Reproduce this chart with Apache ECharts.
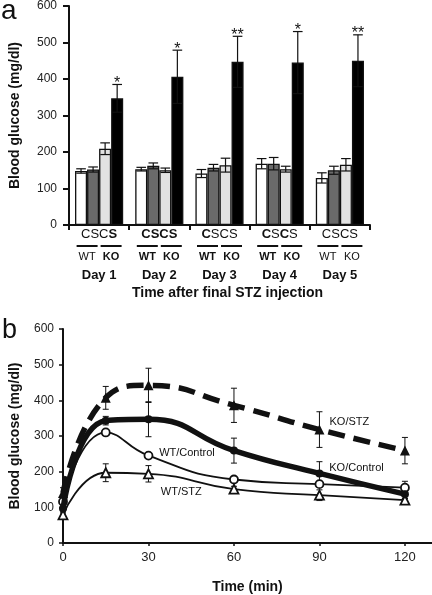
<!DOCTYPE html>
<html><head><meta charset="utf-8">
<script src="https://cdn.jsdelivr.net/npm/echarts@6/dist/echarts.min.js"></script>
<style>html,body{margin:0;padding:0;background:#fff}#c{width:432px;height:595px}</style>
</head><body><div id="c"></div>
<script>
// ---------- Panel a data ----------
const days = ['Day 1', 'Day 2', 'Day 3', 'Day 4', 'Day 5'];
const wtC = [148, 153, 141, 168, 129];
const wtS = [152, 162, 157, 168, 150];
const koC = [209, 150, 164, 153, 165];
const koS = [347, 406, 447, 445, 450];
const wtCErr = [6, 5, 11, 14, 14];
const wtSErr = [7, 8, 9, 17, 11];
const koCErr = [16, 6, 19, 8, 17];
const koSErr = [38, 73, 70, 85, 71];
const stars = ['*', '*', '**', '*', '**'];
const csLetters = ['C', 'S', 'C', 'S'];
const csBold = [[0,0,0,1],[1,1,1,1],[1,0,0,0],[1,0,1,0],[0,0,0,0]];
const wtkoBold = [[0,1],[1,1],[1,1],[1,1],[0,0]];
const yTicksA = [0, 100, 200, 300, 400, 500, 600];

// ---------- Panel b data ----------
const times = [0, 15, 30, 60, 90, 120];
const wtControl = [116, 310, 245, 178, 165, 155];
const wtControlErr = [6, 6, 6, 6, 8, 18];
const wtStz = [79, 197, 194, 151, 134, 120];
const wtStzErr = [5, 25, 23, 8, 15, 5];
const koControl = [97, 343, 347, 259, 195, 137];
const koControlErr = [10, 12, 49, 35, 33, 12];
const koStz = [140, 407, 442, 386, 318, 259];
const koStzErr = [15, 32, 48, 48, 50, 37];
const xTicksB = [0, 30, 60, 90, 120];

const FF = '"Liberation Sans", Arial, Helvetica, sans-serif';
const INK = '#111';

function barErr(barIdx, values, errs, withStar) {
  return {
    type: 'custom', xAxisIndex: 0, yAxisIndex: 0, z: 5,
    data: values.map((v, i) => [i, v, errs[i]]),
    renderItem: function (params, api) {
      const i = api.value(0), v = api.value(1), e = api.value(2);
      const catW = api.size([1, 0])[0];
      const bw = catW * 0.2;
      const cx = api.coord([i, v])[0] + (barIdx - 1.5) * bw;
      const yT = api.coord([i, v + e])[1], yB = api.coord([i, v - e])[1];
      const cap = bw * 0.4;
      const st = { stroke: INK, lineWidth: 1.2 };
      const ch = [
        { type: 'line', shape: { x1: cx, y1: yT, x2: cx, y2: yB }, style: st },
        { type: 'line', shape: { x1: cx - cap, y1: yT, x2: cx + cap, y2: yT }, style: st },
        { type: 'line', shape: { x1: cx - cap, y1: yB, x2: cx + cap, y2: yB }, style: st }
      ];
      if (withStar) ch.push({ type: 'text', style: { text: stars[i], x: cx, y: yT - 1, align: 'center', verticalAlign: 'middle', font: '16px ' + FF, fill: INK } });
      return { type: 'group', children: ch };
    }
  };
}

function lineErr(name, values, errs) {
  return {
    type: 'custom', xAxisIndex: 1, yAxisIndex: 1, z: 1,
    data: values.map((v, i) => [times[i], v, errs[i]]),
    renderItem: function (params, api) {
      const t = api.value(0), v = api.value(1), e = api.value(2);
      const cx = api.coord([t, v])[0];
      const yT = api.coord([t, v + e])[1], yB = api.coord([t, v - e])[1];
      const st = { stroke: INK, lineWidth: 1 };
      return { type: 'group', children: [
        { type: 'line', shape: { x1: cx, y1: yT, x2: cx, y2: yB }, style: st },
        { type: 'line', shape: { x1: cx - 3, y1: yT, x2: cx + 3, y2: yT }, style: st },
        { type: 'line', shape: { x1: cx - 3, y1: yB, x2: cx + 3, y2: yB }, style: st }
      ]};
    }
  };
}

const barStyle = (fill) => ({ color: fill, borderColor: INK, borderWidth: 1.3 });
const labelStyle = { fontFamily: FF, fontSize: 11, color: INK };
const annot = (txt, t, v) => ({ symbol: 'circle', symbolSize: 0, silent: true,
  label: Object.assign({ show: true, position: 'inside', formatter: txt }, labelStyle),
  data: [{ coord: [t, v] }] });

const option = {
  animation: false,
  backgroundColor: '#fff',
  textStyle: { fontFamily: FF },
  grid: [
    { left: 68, right: 62, top: 5, height: 220 },
    { left: 61, right: 0, top: 329, bottom: 51 }
  ],
  graphic: [
    { type: 'text', left: 1, top: -3, style: { text: 'a', font: '28px ' + FF, fill: INK } },
    { type: 'text', left: 2, top: 317, style: { text: 'b', font: '27px ' + FF, fill: INK } }
  ],
  xAxis: [
    { type: 'category', gridIndex: 0, data: days,
      axisLine: { lineStyle: { color: INK, width: 2 } },
      axisTick: { show: true, length: 5, lineStyle: { color: INK, width: 2 } },
      name: 'Time after final STZ injection', nameLocation: 'middle', nameGap: 61,
      nameTextStyle: { fontFamily: FF, fontSize: 14, fontWeight: 'bold', color: INK, padding: [0, 0, 0, 16] },
      axisLabel: {
        interval: 0, margin: 2, color: INK,
        formatter: function (val, idx) {
          const cs = csLetters.map((c, k) => '{' + (csBold[idx][k] ? 'b' : 'n') + '|' + c + '}').join('');
          const wt = '{' + (wtkoBold[idx][0] ? 'wb' : 'wn') + '|WT}';
          const ko = '{' + (wtkoBold[idx][1] ? 'wb' : 'wn') + '|KO}';
          return cs + '\n{u|}{g|}{u|}\n' + wt + '{g|}' + ko + '\n{d|' + val + '}';
        },
        rich: {
          n: { fontFamily: FF, fontSize: 13, color: INK, lineHeight: 14 },
          b: { fontFamily: FF, fontSize: 13, color: INK, lineHeight: 14, fontWeight: 'bold' },
          u: { width: 21, height: 2, lineHeight: 10, backgroundColor: INK },
          g: { width: 3, lineHeight: 10 },
          wn: { fontFamily: FF, fontSize: 11, color: INK, lineHeight: 12, width: 21, align: 'center' },
          wb: { fontFamily: FF, fontSize: 11, color: INK, lineHeight: 12, width: 21, align: 'center', fontWeight: 'bold' },
          d: { fontFamily: FF, fontSize: 13, color: INK, lineHeight: 24, fontWeight: 'bold' }
        }
      }
    },
    { type: 'value', gridIndex: 1, min: 0, max: 129.5, interval: 30,
      axisLine: { show: true, onZero: false, lineStyle: { color: INK, width: 2 } },
      axisTick: { show: true, length: 3, lineStyle: { color: INK, width: 1.5 } },
      splitLine: { show: false },
      axisLabel: { margin: 8, fontSize: 13, color: '#222', fontFamily: FF, showMaxLabel: false,
        formatter: v => (xTicksB.indexOf(v) >= 0 ? String(v) : '') },
      name: 'Time (min)', nameLocation: 'middle', nameGap: 37,
      nameTextStyle: { fontFamily: FF, fontSize: 14, fontWeight: 'bold', color: INK }
    }
  ],
  yAxis: [
    { type: 'value', gridIndex: 0, min: 0, max: 600, interval: 100,
      axisLine: { show: true, lineStyle: { color: INK, width: 2 } },
      axisTick: { show: true, length: 6, lineStyle: { color: INK, width: 2 } },
      splitLine: { show: false },
      axisLabel: { margin: 12, fontSize: 12, color: '#222', fontFamily: FF,
        formatter: v => (yTicksA.indexOf(v) >= 0 ? String(v) : '') },
      name: 'Blood glucose (mg/dl)', nameLocation: 'middle', nameGap: 47,
      nameTextStyle: { fontFamily: FF, fontSize: 14, fontWeight: 'bold', color: INK }
    },
    { type: 'value', gridIndex: 1, min: 0, max: 600, interval: 100,
      axisLine: { show: true, onZero: false, lineStyle: { color: INK, width: 2 } },
      axisTick: { show: true, length: 4, lineStyle: { color: INK, width: 1.5 } },
      splitLine: { show: false },
      axisLabel: { margin: 9, fontSize: 12, color: '#222', fontFamily: FF },
      name: 'Blood glucose (mg/dl)', nameLocation: 'middle', nameGap: 41,
      nameTextStyle: { fontFamily: FF, fontSize: 14, fontWeight: 'bold', color: INK }
    }
  ],
  series: [
    { name: 'WT C', type: 'bar', xAxisIndex: 0, yAxisIndex: 0, data: wtC, barGap: '0%', barCategoryGap: '20%', itemStyle: barStyle('#ffffff') },
    { name: 'WT S', type: 'bar', xAxisIndex: 0, yAxisIndex: 0, data: wtS, barGap: '0%', barCategoryGap: '20%', itemStyle: barStyle('#6a6a6a') },
    { name: 'KO C', type: 'bar', xAxisIndex: 0, yAxisIndex: 0, data: koC, barGap: '0%', barCategoryGap: '20%', itemStyle: barStyle('#e2e2e2') },
    { name: 'KO S', type: 'bar', xAxisIndex: 0, yAxisIndex: 0, data: koS, barGap: '0%', barCategoryGap: '20%', itemStyle: barStyle('#000000') },
    barErr(0, wtC, wtCErr, false),
    barErr(1, wtS, wtSErr, false),
    barErr(2, koC, koCErr, false),
    barErr(3, koS, koSErr, true),

    lineErr('WT/Control', wtControl, wtControlErr),
    lineErr('WT/STZ', wtStz, wtStzErr),
    lineErr('KO/Control', koControl, koControlErr),
    lineErr('KO/STZ', koStz, koStzErr),
    { name: 'WT/Control', type: 'line', xAxisIndex: 1, yAxisIndex: 1, smooth: 0.5, z: 3,
      data: times.map((t, i) => [t, wtControl[i]]),
      symbol: 'circle', symbolSize: 8,
      lineStyle: { color: INK, width: 1.8 },
      itemStyle: { color: '#fff', borderColor: INK, borderWidth: 1.8 },
      markPoint: annot('WT/Control', 43.5, 253) },
    { name: 'WT/STZ', type: 'line', xAxisIndex: 1, yAxisIndex: 1, smooth: 0.5, z: 3,
      data: times.map((t, i) => [t, wtStz[i]]),
      symbol: 'triangle', symbolSize: 9,
      lineStyle: { color: INK, width: 1.8 },
      itemStyle: { color: '#fff', borderColor: INK, borderWidth: 1.8 },
      markPoint: annot('WT/STZ', 41.5, 142) },
    { name: 'KO/Control', type: 'line', xAxisIndex: 1, yAxisIndex: 1, smooth: 0.5, z: 4,
      data: times.map((t, i) => [t, koControl[i]]),
      symbol: 'circle', symbolSize: 8,
      lineStyle: { color: INK, width: 5.5 },
      itemStyle: { color: INK },
      markPoint: annot('KO/Control', 103, 211) },
    { name: 'KO/STZ', type: 'line', xAxisIndex: 1, yAxisIndex: 1, smooth: 0.5, z: 4,
      data: times.map((t, i) => [t, koStz[i]]),
      symbol: 'triangle', symbolSize: 10,
      lineStyle: { color: INK, width: 5.5, type: [17, 9] },
      itemStyle: { color: INK },
      markPoint: annot('KO/STZ', 100.5, 339) }
  ]
};

const chart = echarts.init(document.getElementById('c'), null, { renderer: 'canvas' });
chart.setOption(option);
</script>
</body></html>
